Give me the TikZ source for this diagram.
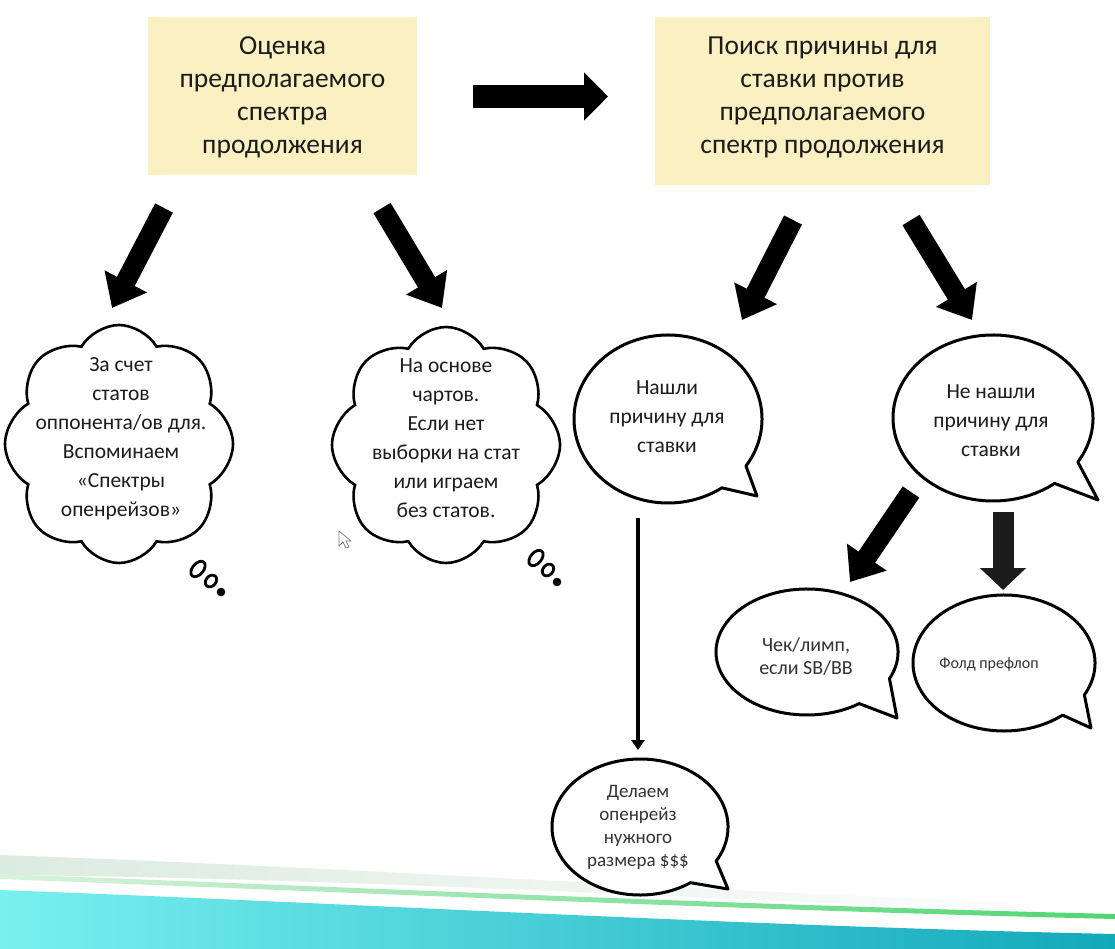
\documentclass[tikz,border=0pt]{standalone}
\usepackage{fontspec}
\setmainfont{Carlito}
\usetikzlibrary{arrows.meta,shapes.symbols}
\definecolor{boxfill}{HTML}{FAF0C2}
\definecolor{ink}{HTML}{1C1C1C}
\definecolor{tealL}{HTML}{78F0F0}
\definecolor{tealR}{HTML}{12A9BA}
\definecolor{greenL}{HTML}{D9F2DF}
\definecolor{greenR}{HTML}{4FD672}
\definecolor{paleL}{HTML}{DCEBE0}
\newcommand\spbubble[7]{%
  \draw[bubble] (#1,#2) ++(#5:#3 and #4) arc[start angle=#5, end angle=#6+360, x radius=#3, y radius=#4] -- #7 -- cycle;}
\begin{document}
\begin{tikzpicture}[x=1pt,y=1pt,
  topbox/.style={fill=boxfill, draw=none, inner sep=0pt},
  toptext/.style={align=center, text=ink, font=\fontsize{27.5}{33}\selectfont},
  cloudtext/.style={align=center, text=ink, font=\fontsize{21.5}{29}\selectfont},
  bubtext/.style={align=center, text=ink, font=\fontsize{21.5}{29}\selectfont},
  smalltext/.style={align=center, text=ink!90, font=\fontsize{19}{23}\selectfont},
  bubble/.style={draw=black, line width=3pt, fill=white, line join=round},
  cloudbox/.style={cloud, draw=black, line width=2.6pt, fill=white, cloud puffs=8, cloud puff arc=120, cloud ignores aspect, inner sep=0pt},
  bigarrow/.style={line width=20pt, -{Triangle[length=30pt,width=46pt]}},
  thought/.style={draw=black, line width=2.8pt}
]
\useasboundingbox (0,0) rectangle (1115,-949);
\fill[white] (0,0) rectangle (1115,-949);

% bottom decoration
\shade[left color=paleL, right color=white] (0,-855) .. controls (370,-868) and (740,-894) .. (1115,-906) -- (1115,-914) .. controls (740,-902) and (370,-878) .. (0,-875) -- cycle;
\shade[left color=greenL, right color=greenR] (0,-874) .. controls (370,-888) and (740,-905) .. (1115,-914) -- (1115,-919) .. controls (740,-910) and (370,-893) .. (0,-879) -- cycle;
\shade[left color=tealL, right color=tealR] (0,-890) .. controls (370,-904) and (740,-926) .. (1115,-934) -- (1115,-949) -- (0,-949) -- cycle;

% top boxes
\node[topbox, minimum width=269, minimum height=158] (t1) at (282.5,-96) {};
\node[toptext] (t1t) at (282.5,-97) {Оценка\\предполагаемого\\спектра\\продолжения};
\node[topbox, minimum width=335, minimum height=168] (t2) at (822.5,-101) {};
\node[toptext] (t2t) at (822.5,-97) {Поиск причины для\\ставки против\\предполагаемого\\спектр продолжения};

% clouds
\node[cloudbox, minimum width=228, minimum height=238] (c1) at (119,-444) {};
\node[cloudtext] (c1t) at (121,-439) {За счет\\статов\\оппонента/ов для.\\Вспоминаем\\«Спектры\\опенрейзов»};
\draw[thought, rotate around={-40:(198,-569)}] (198,-569) ellipse[x radius=5.5, y radius=9];
\draw[thought, rotate around={-40:(211,-581)}] (211,-581) ellipse[x radius=5, y radius=6.5];
\fill[black] (221,-592) circle[radius=4.3];

\node[cloudbox, minimum width=228, minimum height=236] (c2) at (446,-445) {};
\node[cloudtext] (c2t) at (446,-438) {На основе\\чартов.\\Если нет\\выборки на стат\\или играем\\без статов.};
\draw[thought, rotate around={-40:(536,-558)}] (536,-558) ellipse[x radius=5.5, y radius=9];
\draw[thought, rotate around={-40:(548,-570)}] (548,-570) ellipse[x radius=5, y radius=6.5];
\fill[black] (557,-582) circle[radius=4.3];

% mouse cursor
\draw[gray, line width=0.8pt, fill=white, line join=round] (339,-531) -- (339,-546) -- (343,-542) -- (346,-548) -- (349,-547) -- (346,-541) -- (351,-541) -- cycle;

% speech bubbles
\spbubble{668}{-419}{94}{84}{-34}{-55}{(757,-496)}
\node[bubtext] (b1) at (667,-417) {Нашли\\причину для\\ставки};
\spbubble{993}{-418}{100}{83}{-32}{-52}{(1098,-500)}
\node[bubtext] (b2) at (991,-421) {Не нашли\\причину для\\ставки};
\spbubble{807}{-652}{91}{63}{-25}{-55}{(897,-718)}
\node[smalltext, font=\fontsize{20}{23}\selectfont] (b3) at (806,-656) {Чек/лимп,\\если SB/BB};
\spbubble{1004}{-663}{91}{68}{-28}{-50}{(1091,-728)}
\node[smalltext, font=\fontsize{16}{23}\selectfont] (b4) at (989,-664) {Фолд префлоп};
\spbubble{640}{-827}{88}{68}{-30}{-55}{(728,-889)}
\node[smalltext] (b5) at (638,-827) {Делаем\\опенрейз\\нужного\\размера \$\$\$};

% arrow end points
\coordinate (h0) at (473,-96.5);  \coordinate (h1) at (608,-96.5);
\coordinate (a1s) at (164,-208); \coordinate (a1e) at (112,-308);
\coordinate (a2s) at (382,-208); \coordinate (a2e) at (442,-308);
\coordinate (a3s) at (793,-220); \coordinate (a3e) at (742,-320);
\coordinate (a4s) at (911,-220); \coordinate (a4e) at (972,-320);
\coordinate (a5s) at (911,-492); \coordinate (a5e) at (850,-582);
\coordinate (a6s) at (1003,-512); \coordinate (a6e) at (1003,-590);
\coordinate (vs) at (638,-518); \coordinate (ve) at (638,-750);

\draw[line width=23pt, -{Triangle[length=24pt,width=47pt]}] (h0) -- (h1);
\draw[bigarrow] (a1s) -- (a1e);
\draw[bigarrow] (a2s) -- (a2e);
\draw[bigarrow] (a3s) -- (a3e);
\draw[bigarrow] (a4s) -- (a4e);
\draw[bigarrow] (a5s) -- (a5e);
\draw[bigarrow, draw=ink, line width=21pt, -{Triangle[length=22pt,width=45pt]}] (a6s) -- (a6e);
\draw[line width=3.5pt, -{Triangle[length=10pt,width=13pt]}] (vs) -- (ve);
\end{tikzpicture}
\end{document}
